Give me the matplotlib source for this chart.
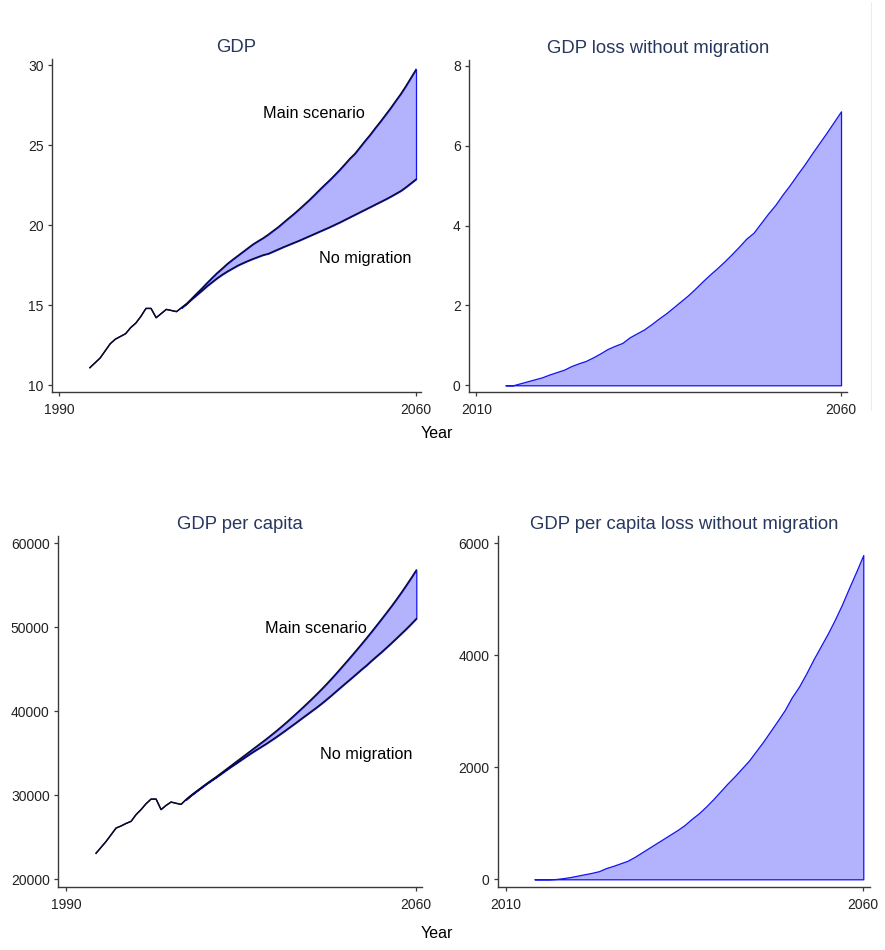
import numpy as np
import matplotlib
matplotlib.use("Agg")
import matplotlib.pyplot as plt
from matplotlib.lines import Line2D

plt.rcParams["font.family"] = ["Liberation Sans", "DejaVu Sans"]

# ---------------------------------------------------------------- data
hist_years = list(range(1996, 2014))
proj_years = list(range(2014, 2061))

# GDP, main scenario (historical + projection)
gdp_hist = [11.1, 11.4, 11.7, 12.15, 12.6, 12.88, 13.05, 13.22, 13.6, 13.88,
            14.3, 14.8, 14.8, 14.22, 14.48, 14.74, 14.67, 14.6]
gdp_main_proj = [14.85, 15.1, 15.43, 15.75, 16.07, 16.4, 16.72, 17.03, 17.31, 17.6,
                 17.85, 18.09, 18.33, 18.57, 18.81, 19.01, 19.2, 19.42, 19.66, 19.9,
                 20.17, 20.44, 20.7, 20.98, 21.27, 21.56, 21.87, 22.19, 22.5, 22.8,
                 23.12, 23.45, 23.8, 24.16, 24.47, 24.87, 25.27, 25.65, 26.07, 26.47,
                 26.89, 27.31, 27.76, 28.2, 28.69, 29.21, 29.73]
# GDP lost in the no-migration scenario
gdp_loss = [0.0, 0.0, 0.05, 0.1, 0.15, 0.2, 0.27, 0.33, 0.39, 0.48,
            0.55, 0.61, 0.7, 0.8, 0.91, 0.99, 1.06, 1.2, 1.3, 1.4,
            1.53, 1.67, 1.8, 1.95, 2.1, 2.25, 2.42, 2.6, 2.77, 2.93,
            3.1, 3.28, 3.47, 3.67, 3.82, 4.06, 4.3, 4.52, 4.78, 5.02,
            5.28, 5.53, 5.8, 6.06, 6.32, 6.59, 6.86]

# GDP per capita, main scenario
gdppc_hist = [23100, 23800, 24500, 25300, 26100, 26350, 26650, 26900, 27700, 28300,
              29000, 29550, 29550, 28300, 28800, 29200, 29050, 28920]
gdppc_main_proj = [29500, 30000, 30450, 30900, 31350, 31780, 32200, 32650, 33100, 33550,
                   34000, 34450, 34900, 35350, 35800, 36250, 36700, 37180, 37660, 38160,
                   38670, 39200, 39740, 40290, 40850, 41420, 42000, 42600, 43220, 43860,
                   44520, 45200, 45880, 46570, 47270, 47980, 48700, 49440, 50190, 50950,
                   51720, 52500, 53310, 54150, 55020, 55910, 56830]
# GDP per capita lost in the no-migration scenario
gdppc_loss = [0, 0, 0, 5, 20, 40, 65, 90, 115, 145,
              200, 240, 285, 330, 400, 480, 560, 640, 720, 800,
              880, 970, 1080, 1180, 1300, 1430, 1570, 1710, 1840, 1980,
              2120, 2290, 2460, 2645, 2830, 3020, 3250, 3440, 3670, 3920,
              4150, 4380, 4630, 4900, 5200, 5490, 5790]

# ---------------------------------------------------------------- style
W, H = 885, 950
FILL = "#b3b3fd"
EDGE = "#1414f0"
LINE = "#0a0a30"
TITLE = "#27375e"
TICKC = "#222222"
SPINE = "#3a3a3a"

fig = plt.figure(figsize=(W / 100, H / 100), dpi=100)
fig.patch.set_facecolor("white")


def px_axes(l, t, r, b):
    return fig.add_axes([l / W, 1 - b / H, (r - l) / W, (b - t) / H])


def style(ax, title, xlim, ylim, xticks, yticks):
    ax.set_xlim(*xlim)
    ax.set_ylim(*ylim)
    ax.set_xticks(xticks)
    ax.set_yticks(yticks)
    for s in ("top", "right"):
        ax.spines[s].set_visible(False)
    for s in ("left", "bottom"):
        ax.spines[s].set_color(SPINE)
        ax.spines[s].set_linewidth(1.0)
    ax.tick_params(axis="both", direction="out", length=3, width=0.9,
                   color=SPINE, labelcolor=TICKC, labelsize=10)
    ax.tick_params(axis="x", pad=5)
    ax.tick_params(axis="y", pad=3)
    ax.set_title(title, color=TITLE, fontsize=13.3, pad=5)


def level_panel(ax, hist, main_proj, loss, label_main, label_nomig):
    main_proj = np.asarray(main_proj, dtype=float)
    nomig_proj = main_proj - np.asarray(loss, dtype=float)
    years_all = hist_years + proj_years
    main_all = list(hist) + list(main_proj)
    nomig_all = list(hist) + list(nomig_proj)
    ax.fill_between(proj_years, nomig_proj, main_proj, facecolor=FILL,
                    edgecolor=EDGE, linewidth=0.9, zorder=2)
    ax.plot(years_all, nomig_all, color=LINE, lw=1.0, zorder=3)
    ax.plot(years_all, main_all, color=LINE, lw=1.0, zorder=3)
    ax.text(*label_main[1:], label_main[0], fontsize=11.7, ha="center",
            va="center", color="black")
    ax.text(*label_nomig[1:], label_nomig[0], fontsize=11.7, ha="center",
            va="center", color="black")


def loss_panel(ax, loss):
    ax.fill_between(proj_years, 0, loss, facecolor=FILL, edgecolor=EDGE,
                    linewidth=0.9, zorder=2)


# GDP
ax1 = px_axes(52, 59, 421, 392)
level_panel(ax1, gdp_hist, gdp_main_proj, gdp_loss,
            ("Main scenario", 2040, 27.0), ("No migration", 2050, 17.93))
style(ax1, "GDP", (1988.56, 2060.98), (9.58, 30.38), [1990, 2060],
      [10, 15, 20, 25, 30])

# GDP loss
ax2 = px_axes(469, 60, 847, 392)
loss_panel(ax2, gdp_loss)
style(ax2, "GDP loss without migration", (2008.98, 2060.82), (-0.168, 8.145),
      [2010, 2060], [0, 2, 4, 6, 8])

# GDP per capita
ax3 = px_axes(58, 536, 422, 887)
level_panel(ax3, gdppc_hist, gdppc_main_proj, gdppc_loss,
            ("Main scenario", 2040, 49850), ("No migration", 2050, 34900))
style(ax3, "GDP per capita", (1988.4, 2061.14), (19082, 60882), [1990, 2060],
      [20000, 30000, 40000, 50000, 60000])

# GDP per capita loss
ax4 = px_axes(498, 536, 870, 887)
loss_panel(ax4, gdppc_loss)
style(ax4, "GDP per capita loss without migration", (2008.88, 2060.94),
      (-137.6, 6130), [2010, 2060], [0, 2000, 4000, 6000])

# shared x-axis captions
fig.text(437 / W, 1 - 434 / H, "Year", ha="center", va="center", fontsize=11.5)
fig.text(437 / W, 1 - 934 / H, "Year", ha="center", va="center", fontsize=11.5)

# faint frame edge of the upper graph region
fig.add_artist(Line2D([871 / W, 871 / W], [1 - 2 / H, 1 - 410 / H],
                      transform=fig.transFigure, color="#e6eeee", lw=0.8))

fig.savefig("out.png", dpi=100, facecolor="white")
